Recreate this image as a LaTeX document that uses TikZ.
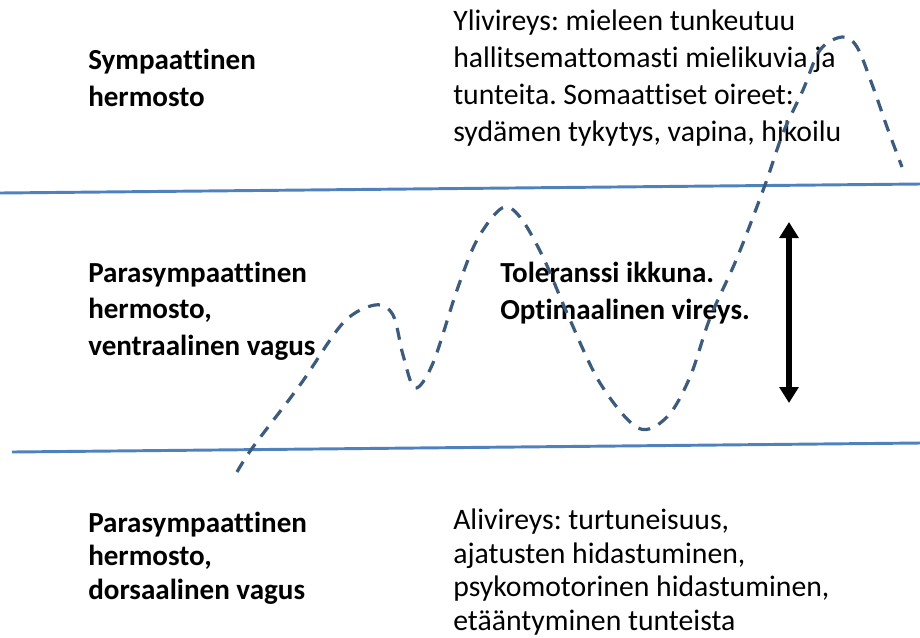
\documentclass[tikz,border=0pt]{standalone}
\usepackage{fontspec}
\setmainfont{Carlito}[Ligatures=NoCommon]
\usetikzlibrary{arrows.meta}
\frenchspacing

\definecolor{rajablue}{HTML}{4F81BD}
\definecolor{kayrablue}{HTML}{3D5B7D}

\tikzset{
  raja/.style={rajablue, line width=2.2pt},
  kayra/.style={kayrablue, line width=2.4pt, dash pattern=on 9pt off 7pt},
  ikkuna/.style={line width=4.5pt, {Triangle[width=14pt,length=12pt]}-{Triangle[width=14pt,length=12pt]}},
  otsikko/.style={font=\fontsize{21.8}{27.5}\selectfont\bfseries, align=left, anchor=west, inner sep=0pt},
  selite/.style={font=\fontsize{22.3}{27.7}\selectfont, align=left, anchor=west, inner sep=0pt}
}

\begin{document}
\begin{tikzpicture}[x=0.75pt,y=-0.75pt]
  \useasboundingbox (0,0) rectangle (920,637);
  \draw[raja] (0,193)--(920,184);
  \draw[raja] (12,452)--(920,443);

  \node[otsikko] (symp) at (88,78) {Sympaattinen\\hermosto};
  \node[otsikko] (vent) at (88,311) {Parasympaattinen\\hermosto,\\ventraalinen vagus};
  \node[otsikko, font=\fontsize{21.8}{25.2}\selectfont\bfseries] (dors) at (88,558) {Parasympaattinen\\hermosto,\\dorsaalinen vagus};

  \node[selite] (yli) at (453,78) {Ylivireys: mieleen tunkeutuu\\hallitsemattomasti mielikuvia ja\\tunteita. Somaattiset oireet:\\sydämen tykytys, vapina, hikoilu};
  \node[otsikko] (toler) at (500,293) {Toleranssi ikkuna.\\Optimaalinen vireys.};
  \node[selite, font=\fontsize{22.3}{25.4}\selectfont] (ali) at (453,572) {Alivireys: turtuneisuus,\\ajatusten hidastuminen,\\psykomotorinen hidastuminen,\\etääntyminen tunteista};

  \draw[kayra] plot[smooth, tension=0.55] coordinates {
    (237,472) (253,447) (300,385) (343,323) (375,305) (393,315) (403,355)
    (415,388) (433,363) (457,290) (477,240) (502,208) (520,217) (543,257)
    (567,313) (600,383) (638,428) (667,417) (690,377) (710,318) (737,258)
    (765,185) (783,133) (803,90) (820,50) (842,37) (857,47) (873,87)
    (887,127) (902,167)};

  \coordinate (ylaraja) at (789,222);
  \coordinate (alaraja) at (789,403);
  \draw[ikkuna] (alaraja) -- (ylaraja);
\end{tikzpicture}
\end{document}
